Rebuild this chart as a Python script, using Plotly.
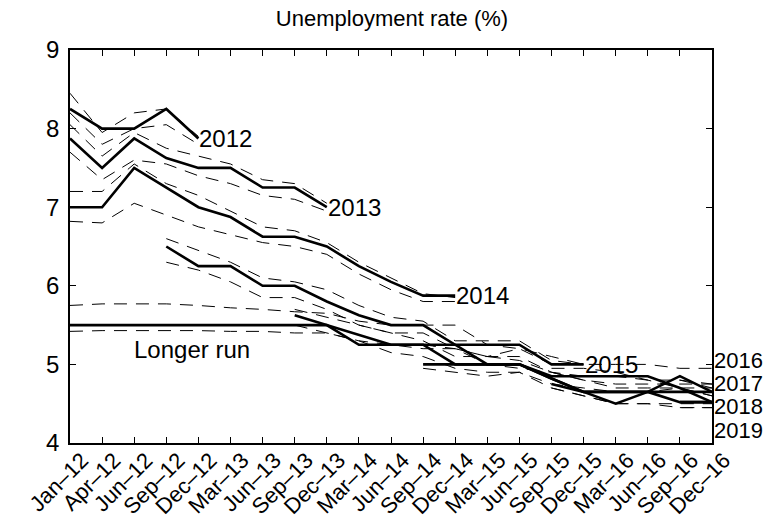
import plotly.graph_objects as go

# Forecast dates (x axis categories)
dates = ["Jan–12", "Apr–12", "Jun–12", "Sep–12", "Dec–12", "Mar–13", "Jun–13",
         "Sep–13", "Dec–13", "Mar–14", "Jun–14", "Sep–14", "Dec–14", "Mar–15",
         "Jun–15", "Sep–15", "Dec–15", "Mar–16", "Jun–16", "Sep–16", "Dec–16"]

# Median projections by target year (first date index, values)
start_2012, med_2012 = 0, [8.25, 8.0, 8.0, 8.25, 7.875]
start_2013, med_2013 = 0, [7.875, 7.5, 7.875, 7.625, 7.5, 7.5, 7.25, 7.25, 7.0]
start_2014, med_2014 = 0, [7.0, 7.0, 7.5, 7.25, 7.0, 6.875, 6.625, 6.625, 6.5,
                           6.25, 6.05, 5.875, 5.875]
start_2015, med_2015 = 3, [6.5, 6.25, 6.25, 6.0, 6.0, 5.8, 5.625, 5.5, 5.5,
                           5.25, 5.25, 5.25, 5.0, 5.0]
start_2016, med_2016 = 7, [5.625, 5.5, 5.375, 5.25, 5.25, 5.0, 5.0, 5.0,
                           4.85, 4.85, 4.85, 4.85, 4.7, 4.52]
start_2017, med_2017 = 11, [5.0, 5.0, 5.0, 5.0, 4.82, 4.65, 4.5, 4.65, 4.85, 4.65]
start_2018, med_2018 = 15, [4.75, 4.65, 4.65, 4.65, 4.52, 4.52]
start_2019, med_2019 = 19, [4.52, 4.52]
start_lr, med_lr = 0, [5.5, 5.5, 5.5, 5.5, 5.5, 5.5, 5.5, 5.5, 5.5, 5.25, 5.25,
                       5.25, 5.25, 5.0, 5.0, 4.82, 4.65, 4.65, 4.65, 4.65, 4.65]

# Central tendency bounds (upper / lower)
hi_2012 = [8.45, 7.95, 8.2, 8.25, 7.9]
lo_2012 = [8.2, 7.8, 8.0, 8.05, 7.8]
hi_2013 = [8.05, 7.65, 7.95, 7.75, 7.65, 7.55, 7.35, 7.3, 7.05]
lo_2013 = [7.7, 7.35, 7.6, 7.55, 7.4, 7.3, 7.15, 7.1, 6.95]
hi_2014 = [7.2, 7.2, 7.55, 7.3, 7.15, 6.95, 6.75, 6.7, 6.55, 6.3, 6.1, 5.9, 5.85]
lo_2014 = [6.82, 6.8, 7.05, 6.9, 6.75, 6.65, 6.55, 6.5, 6.4, 6.15, 5.95, 5.8, 5.8]
hi_2015 = [6.6, 6.45, 6.3, 6.1, 6.05, 5.95, 5.75, 5.6, 5.55, 5.3, 5.3, 5.3, 5.05, 5.0]
lo_2015 = [6.3, 6.2, 6.05, 5.85, 5.85, 5.7, 5.5, 5.4, 5.4, 5.2, 5.1, 5.2, 5.0, 5.0]
hi_2016 = [5.7, 5.6, 5.5, 5.4, 5.3, 5.1, 5.1, 5.1, 4.9, 4.85, 4.85, 4.8, 4.8, 4.75]
lo_2016 = [5.5, 5.4, 5.3, 5.15, 5.1, 4.95, 4.9, 4.9, 4.75, 4.7, 4.65, 4.65, 4.7, 4.7]
hi_2017 = [5.25, 5.2, 5.1, 5.05, 4.9, 4.8, 4.7, 4.7, 4.7, 4.6]
lo_2017 = [4.95, 4.9, 4.85, 4.9, 4.7, 4.6, 4.5, 4.5, 4.5, 4.5]
hi_2018 = [4.95, 4.95, 4.9, 4.8, 4.7, 4.6]
lo_2018 = [4.7, 4.6, 4.5, 4.5, 4.45, 4.45]
hi_2019 = [4.8, 4.7]
lo_2019 = [4.45, 4.45]
hi_lr = [5.75, 5.77, 5.77, 5.77, 5.75, 5.72, 5.7, 5.67, 5.65, 5.55, 5.5, 5.5,
         5.5, 5.25, 5.2, 5.1, 5.0, 5.0, 5.0, 4.95, 4.95]
lo_lr = [5.42, 5.43, 5.43, 5.43, 5.43, 5.42, 5.42, 5.4, 5.4, 5.3, 5.25, 5.2,
         5.2, 5.0, 4.95, 4.9, 4.8, 4.75, 4.75, 4.75, 4.75]

series = [
    ("2012", start_2012, med_2012, hi_2012, lo_2012),
    ("2013", start_2013, med_2013, hi_2013, lo_2013),
    ("2014", start_2014, med_2014, hi_2014, lo_2014),
    ("2015", start_2015, med_2015, hi_2015, lo_2015),
    ("2016", start_2016, med_2016, hi_2016, lo_2016),
    ("2017", start_2017, med_2017, hi_2017, lo_2017),
    ("2018", start_2018, med_2018, hi_2018, lo_2018),
    ("2019", start_2019, med_2019, hi_2019, lo_2019),
    ("Longer run", start_lr, med_lr, hi_lr, lo_lr),
]

FONT = "Liberation Sans, Arial, Helvetica, sans-serif"
fig = go.Figure()

for name, s, med, hi, lo in series:
    xs = list(range(s, s + len(med)))
    for band in (hi, lo):
        fig.add_trace(go.Scatter(x=xs, y=band, mode="lines", showlegend=False,
                                 line=dict(color="black", width=1, dash="13px,9px"),
                                 hoverinfo="skip"))
    fig.add_trace(go.Scatter(x=xs, y=med, mode="lines", name=name, showlegend=False,
                             line=dict(color="black", width=2.6)))

# Series labels next to the line ends
end_labels = [("2012", 4, 7.875), ("2013", 8, 7.0), ("2014", 12, 5.875), ("2015", 16, 5.0)]
for txt, xi, yv in end_labels:
    fig.add_annotation(x=xi, y=yv, text=txt, showarrow=False, xanchor="left",
                       xshift=-1, font=dict(size=24, color="black", family=FONT))

right_labels = [("2016", 5.05), ("2017", 4.755), ("2018", 4.46), ("2019", 4.165)]
for txt, yv in right_labels:
    fig.add_annotation(x=20, y=yv, text=txt, showarrow=False, xanchor="left",
                       xshift=0, font=dict(size=22, color="black", family=FONT))

fig.add_annotation(x=2.0, y=5.19, text="Longer run", showarrow=False,
                   xanchor="left", xshift=-2, font=dict(size=24, color="black", family=FONT))

fig.update_layout(
    width=784, height=527,
    margin=dict(l=70, r=72, t=50, b=84, autoexpand=False),
    paper_bgcolor="white", plot_bgcolor="white",
    title=dict(text="Unemployment rate (%)", x=0.5, xanchor="center",
               y=0.965, yanchor="middle",
               font=dict(size=22, color="black", family=FONT)),
    font=dict(family=FONT, color="black"),
)
fig.update_xaxes(range=[0, 20], tickvals=list(range(len(dates))), ticktext=dates,
                 tickangle=-45, ticks="inside", ticklen=6, tickcolor="black",
                 showline=True, linecolor="black", linewidth=1.5, mirror="ticks",
                 showgrid=False, zeroline=False, automargin=False,
                 ticklabelshift=12, ticklabelstandoff=-6,
                 tickfont=dict(size=22, family=FONT))
fig.update_yaxes(range=[4, 9], tickvals=[4, 5, 6, 7, 8, 9], ticks="inside",
                 ticklen=6, tickcolor="black", showline=True, linecolor="black",
                 linewidth=1.5, mirror="ticks", showgrid=False, zeroline=False,
                 automargin=False, tickfont=dict(size=24, family=FONT),
                 ticklabelstandoff=4)

fig.write_html("out.html")
